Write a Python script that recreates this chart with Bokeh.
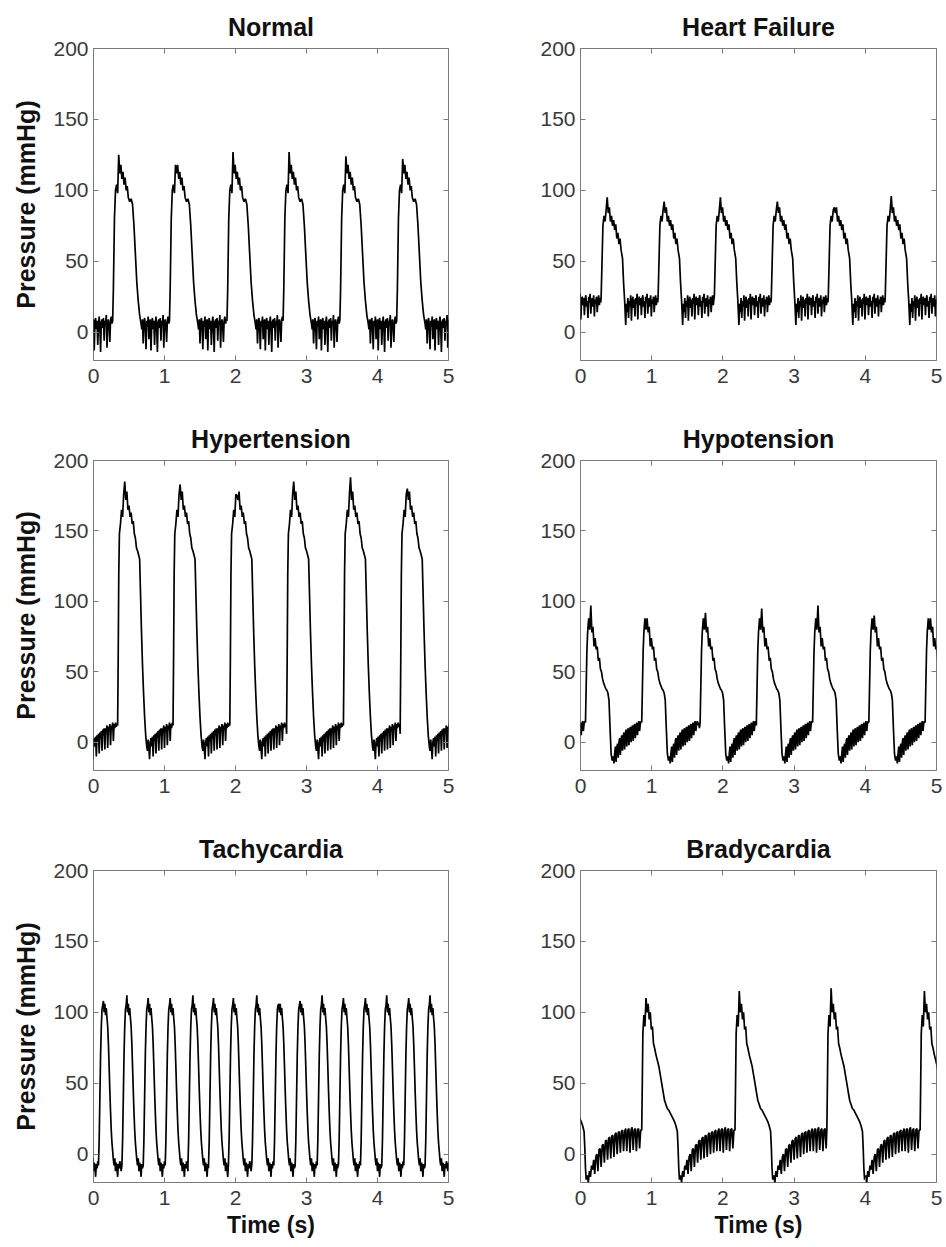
from bokeh.plotting import figure
from bokeh.layouts import row, column
from bokeh.models import LinearAxis, FixedTicker, Range1d
from bokeh.embed import file_html
from bokeh.resources import INLINE

# ---------------- data ----------------
titles = ["Normal", "Heart Failure", "Hypertension", "Hypotension", "Tachycardia", "Bradycardia"]
x_ticks = [0, 1, 2, 3, 4, 5]
y_ticks = [0, 50, 100, 150, 200]

# Normal: beat onsets (s), systolic peaks (mmHg), one beat shape (time after onset, pressure)
normal_onsets = [-0.53, 0.27, 1.07, 1.88, 2.67, 3.47, 4.27]
normal_peaks = [122, 125, 118, 127, 127, 124, 122]
normal_peak_idx = 6
normal_beat_t = [0.000, 0.010, 0.025, 0.040, 0.055, 0.070, 0.085, 0.100, 0.115, 0.130, 0.145, 0.160,
                 0.175, 0.190, 0.205, 0.220, 0.240, 0.260, 0.280, 0.300, 0.320, 0.340, 0.360, 0.380,
                 0.400, 0.410, 0.420, 0.430, 0.440, 0.450, 0.460, 0.470, 0.480, 0.490, 0.500, 0.510,
                 0.520, 0.530, 0.540, 0.550, 0.560, 0.570, 0.580, 0.590, 0.600, 0.610, 0.620, 0.630,
                 0.640, 0.650, 0.660, 0.670, 0.680, 0.690, 0.700, 0.710, 0.720, 0.730, 0.740, 0.750,
                 0.760, 0.770, 0.780, 0.790, 0.800, 0.810, 0.820, 0.830, 0.840, 0.850]
normal_beat_p = [8, 30, 80, 100, 104, 98, 122, 112, 118, 108, 113, 104,
                 109, 100, 103, 95, 92, 94, 90, 75, 55, 35, 22, 12,
                 6, 2, 9, -8, 6, 10, 3, -12, 8, 4, 11, -5,
                 7, 9, -13, 6, 10, 2, 8, -9, 5, 11, 4, -14,
                 7, 9, 3, 10, -6, 8, 5, 12, -11, 6, 9, 4,
                 -7, 8, 11, 6, 9, -4, 8, 5, 10, 7]

# Heart failure
hf_onsets = [-0.51, 0.29, 1.09, 1.88, 2.68, 3.48, 4.28]
hf_peaks = [95, 95, 92, 95, 92, 88, 96]
hf_peak_idx = 6
hf_beat_t = [0.000, 0.010, 0.025, 0.040, 0.055, 0.070, 0.085, 0.100, 0.115, 0.130, 0.145, 0.160,
             0.175, 0.190, 0.205, 0.220, 0.235, 0.250, 0.265, 0.280, 0.300, 0.315, 0.330, 0.345,
             0.355, 0.365, 0.375, 0.385, 0.395, 0.405, 0.415, 0.425, 0.435, 0.445, 0.455, 0.465,
             0.475, 0.485, 0.495, 0.505, 0.515, 0.525, 0.535, 0.545, 0.555, 0.565, 0.575, 0.585,
             0.595, 0.605, 0.615, 0.625, 0.635, 0.645, 0.655, 0.665, 0.675, 0.685, 0.695, 0.705,
             0.715, 0.725, 0.735, 0.745, 0.755, 0.765, 0.775, 0.785, 0.795, 0.805, 0.815, 0.825, 0.835]
hf_beat_p = [25, 45, 75, 82, 78, 86, 95, 84, 88, 78, 82, 75,
             79, 72, 76, 66, 70, 62, 66, 58, 52, 35, 22, 5,
             20, 14, 24, 10, 22, 18, 26, 8, 21, 25, 17, 23,
             11, 24, 20, 27, 9, 22, 25, 19, 24, 12, 23, 26,
             18, 22, 10, 25, 21, 27, 13, 22, 24, 18, 26, 11,
             23, 20, 25, 14, 22, 26, 19, 24, 21, 25, 15, 23, 25]

# Hypertension
ht_onsets = [-0.46, 0.34, 1.12, 1.92, 2.72, 3.52, 4.32]
ht_peaks = [180, 185, 183, 175, 185, 188, 180]
ht_peak_idx = 8
ht_beat_t = [0.000, 0.008, 0.016, 0.025, 0.040, 0.055, 0.070, 0.085, 0.100, 0.115, 0.130, 0.145,
             0.160, 0.175, 0.190, 0.205, 0.220, 0.235, 0.250, 0.265, 0.280, 0.300, 0.310, 0.320,
             0.335, 0.350, 0.365, 0.380, 0.395, 0.410, 0.420, 0.430, 0.440, 0.450, 0.460, 0.470,
             0.480, 0.490, 0.500, 0.510, 0.520, 0.530, 0.540, 0.550, 0.560, 0.570, 0.580, 0.590,
             0.600, 0.610, 0.620, 0.630, 0.640, 0.650, 0.660, 0.670, 0.680, 0.690, 0.700, 0.710,
             0.720, 0.730, 0.740, 0.750, 0.760, 0.770, 0.780, 0.790, 0.800, 0.810]
ht_beat_p = [12, 60, 120, 148, 155, 165, 160, 176, 185, 172, 178, 165,
             168, 160, 163, 155, 157, 148, 145, 138, 136, 132, 130, 110,
             80, 55, 35, 18, 5, -3, -6, 2, -4, -12, 0, 3,
             -3, 4, -10, 5, 1, 6, -8, 7, 3, 8, -6, 9,
             5, 10, -5, 10, 7, 12, -4, 11, 8, 13, -2, 12,
             9, 14, 1, 13, 10, 14, 11, 13, 6, 14]

# Hypotension
hypo_onsets = [-0.72, 0.07, 0.86, 1.68, 2.47, 3.26, 4.05, 4.84]
hypo_peaks = [90, 97, 88, 92, 95, 97, 90, 88]
hypo_peak_idx = 6
hypo_beat_t = [0.000, 0.010, 0.020, 0.030, 0.045, 0.060, 0.075, 0.090, 0.105, 0.120, 0.135, 0.150,
               0.165, 0.180, 0.195, 0.210, 0.225, 0.240, 0.255, 0.270, 0.285, 0.300, 0.315, 0.330,
               0.345, 0.360, 0.375, 0.390, 0.400, 0.410, 0.420, 0.430, 0.440, 0.450, 0.460, 0.470,
               0.480, 0.490, 0.500, 0.510, 0.520, 0.530, 0.540, 0.550, 0.560, 0.570, 0.580, 0.590,
               0.600, 0.610, 0.620, 0.630, 0.640, 0.650, 0.660, 0.670, 0.680, 0.690, 0.700, 0.710,
               0.720, 0.730, 0.740, 0.750, 0.760, 0.770, 0.780, 0.790, 0.800, 0.810, 0.820]
hypo_beat_p = [14, 40, 65, 78, 88, 80, 95, 78, 82, 68, 74, 66,
               68, 58, 60, 52, 50, 45, 42, 40, 38, 37, 35, 30,
               10, -8, -13, -10, -15, -8, -3, -14, -4, -1, -11, 0,
               3, -9, 2, 5, -6, 4, 7, -5, 6, 9, -3, 7,
               10, -2, 8, 11, 0, 9, 12, 1, 10, 13, 3, 11,
               14, 5, 12, 15, 8, 13, 15, 12, 14, 10, 15]

# Tachycardia
tachy_onsets = [-0.24, 0.07, 0.40, 0.70, 1.01, 1.33, 1.62, 1.90, 2.23, 2.54, 2.84, 3.15, 3.45,
                3.76, 4.06, 4.37, 4.67]
tachy_peaks = [110, 108, 112, 110, 110, 112, 110, 110, 112, 106, 108, 112, 110, 110, 112, 110, 112]
tachy_peak_idx = 7
tachy_beat_t = [0.000, 0.010, 0.020, 0.030, 0.040, 0.050, 0.060, 0.070, 0.080, 0.090, 0.100, 0.110,
                0.120, 0.130, 0.140, 0.150, 0.160, 0.170, 0.180, 0.190, 0.200, 0.210, 0.220, 0.230,
                0.240, 0.250, 0.260, 0.270, 0.280, 0.290, 0.300, 0.310, 0.320, 0.330, 0.340, 0.350]
tachy_beat_p = [-8, 10, 40, 70, 90, 102, 105, 110, 100, 106, 98, 103,
                96, 90, 78, 62, 45, 30, 17, 8, 2, -4, -8, -3,
                -12, -6, -9, -16, -7, -10, -5, -8, -12, -6, -9, -5]

# Bradycardia
brady_onsets = [-0.45, 0.86, 2.17, 3.46, 4.77]
brady_peaks = [112, 110, 115, 117, 115]
brady_peak_idx = 5
brady_beat_t = [0.000, 0.008, 0.016, 0.030, 0.045, 0.060, 0.075, 0.090, 0.105, 0.120, 0.135, 0.150,
                0.165, 0.180, 0.200, 0.220, 0.240, 0.260, 0.280, 0.300, 0.320, 0.340, 0.360, 0.380,
                0.400, 0.420, 0.440, 0.460, 0.480, 0.500, 0.510, 0.520, 0.530, 0.545, 0.560, 0.575,
                0.590, 0.605, 0.620, 0.635, 0.650, 0.665, 0.680, 0.695, 0.710, 0.725, 0.740, 0.755,
                0.770, 0.785, 0.800, 0.815, 0.830, 0.845, 0.860, 0.875, 0.890, 0.905, 0.920, 0.935,
                0.950, 0.965, 0.980, 0.995, 1.010, 1.025, 1.040, 1.055, 1.070, 1.085, 1.100, 1.115,
                1.130, 1.145, 1.160, 1.175, 1.190, 1.205, 1.220, 1.235, 1.250, 1.265, 1.280, 1.295,
                1.310, 1.325, 1.340]
brady_beat_p = [17, 50, 85, 98, 90, 112, 100, 106, 95, 100, 88, 90,
                78, 75, 70, 66, 62, 56, 50, 44, 38, 35, 32, 31,
                29, 27, 25, 23, 20, 16, 5, -10, -18, -15, -20, -12,
                -16, -8, -11, -4, -14, -2, 0, -12, 3, 4, -9, 6,
                7, -6, 9, 10, -4, 11, 12, -3, 13, 13, -2, 14,
                15, 0, 15, 16, 1, 16, 17, 2, 16, 18, 2, 17,
                18, 1, 17, 19, 3, 17, 18, 2, 17, 18, 4, 17,
                18, 16, 18]


def build(onsets, peaks, beat_t, beat_p, peak_idx):
    xs, ys = [], []
    for i, (t0, pk) in enumerate(zip(onsets, peaks)):
        limit = onsets[i + 1] - t0 if i + 1 < len(onsets) else None
        for j, (dt, pv) in enumerate(zip(beat_t, beat_p)):
            if limit is not None and dt >= limit:
                break
            xs.append(t0 + dt)
            ys.append(pk if j == peak_idx else pv)
    return xs, ys


series = [
    build(normal_onsets, normal_peaks, normal_beat_t, normal_beat_p, normal_peak_idx),
    build(hf_onsets, hf_peaks, hf_beat_t, hf_beat_p, hf_peak_idx),
    build(ht_onsets, ht_peaks, ht_beat_t, ht_beat_p, ht_peak_idx),
    build(hypo_onsets, hypo_peaks, hypo_beat_t, hypo_beat_p, hypo_peak_idx),
    build(tachy_onsets, tachy_peaks, tachy_beat_t, tachy_beat_p, tachy_peak_idx),
    build(brady_onsets, brady_peaks, brady_beat_t, brady_beat_p, brady_peak_idx),
]

FONT = "Liberation Sans"
BOX = "#7a7a7a"
TICKLBL = "#3a3a3a"

# row geometry: (border_top, frame_height, border_bottom)
rows_geom = [(48, 312, 52), (48, 310, 52), (48, 312, 55)]


def style_axis(ax, show_labels):
    ax.major_tick_in = 5
    ax.major_tick_out = 0
    ax.minor_tick_in = 0
    ax.minor_tick_out = 0
    ax.major_tick_line_color = BOX
    ax.axis_line_color = None
    if show_labels:
        ax.major_label_text_font = FONT
        ax.major_label_text_font_size = "21px"
        ax.major_label_text_color = TICKLBL
    else:
        # tick marks only: labels are not drawn
        ax.major_label_text_font_size = "1px"
        ax.major_label_text_color = None
        ax.major_label_text_alpha = 0
        ax.major_label_standoff = 0


def make(idx):
    r, c = divmod(idx, 2)
    bt, fh, bb = rows_geom[r]
    if c == 0:
        bl, fw, br = 93, 355, 23
    else:
        bl, fw, br = 109, 356, 6
    p = figure(frame_width=fw, frame_height=fh, x_range=Range1d(0, 5), y_range=Range1d(-20, 200),
               output_backend="svg", toolbar_location=None, title=titles[idx],
               min_border_left=bl, min_border_right=br, min_border_top=bt, min_border_bottom=bb)
    p.title.text_font = FONT
    p.title.text_font_size = "25px"
    p.title.text_font_style = "bold"
    p.title.text_color = "#111111"
    p.title.align = "center"
    p.title.standoff = 16
    p.grid.visible = False
    p.outline_line_color = BOX
    p.outline_line_width = 1
    p.background_fill_color = "white"
    p.border_fill_color = "white"

    bx = p.xaxis[0]
    ly = p.yaxis[0]
    bx.ticker = FixedTicker(ticks=x_ticks)
    ly.ticker = FixedTicker(ticks=y_ticks)
    style_axis(bx, True)
    style_axis(ly, True)
    bx.major_label_standoff = 8
    ly.major_label_standoff = 5

    top = LinearAxis(ticker=FixedTicker(ticks=x_ticks))
    style_axis(top, False)
    p.add_layout(top, "above")
    right = LinearAxis(ticker=FixedTicker(ticks=y_ticks))
    style_axis(right, False)
    p.add_layout(right, "right")

    if c == 0:
        ly.axis_label = "Pressure (mmHg)"
        ly.axis_label_text_font = FONT
        ly.axis_label_text_font_size = "25px"
        ly.axis_label_text_font_style = "bold"
        ly.axis_label_text_color = "#111111"
        ly.axis_label_standoff = 10
    if r == 2:
        bx.axis_label = "Time (s)"
        bx.axis_label_text_font = FONT
        bx.axis_label_text_font_size = "23px"
        bx.axis_label_text_font_style = "bold"
        bx.axis_label_text_color = "#111111"
        bx.axis_label_standoff = 4

    xs, ys = series[idx]
    p.line(xs, ys, line_color="black", line_width=1.7)
    return p


figs = [make(i) for i in range(6)]
layout = column(row(figs[0], figs[1]), row(figs[2], figs[3]), row(figs[4], figs[5]))

with open("out.html", "w") as f:
    f.write(file_html(layout, INLINE))
